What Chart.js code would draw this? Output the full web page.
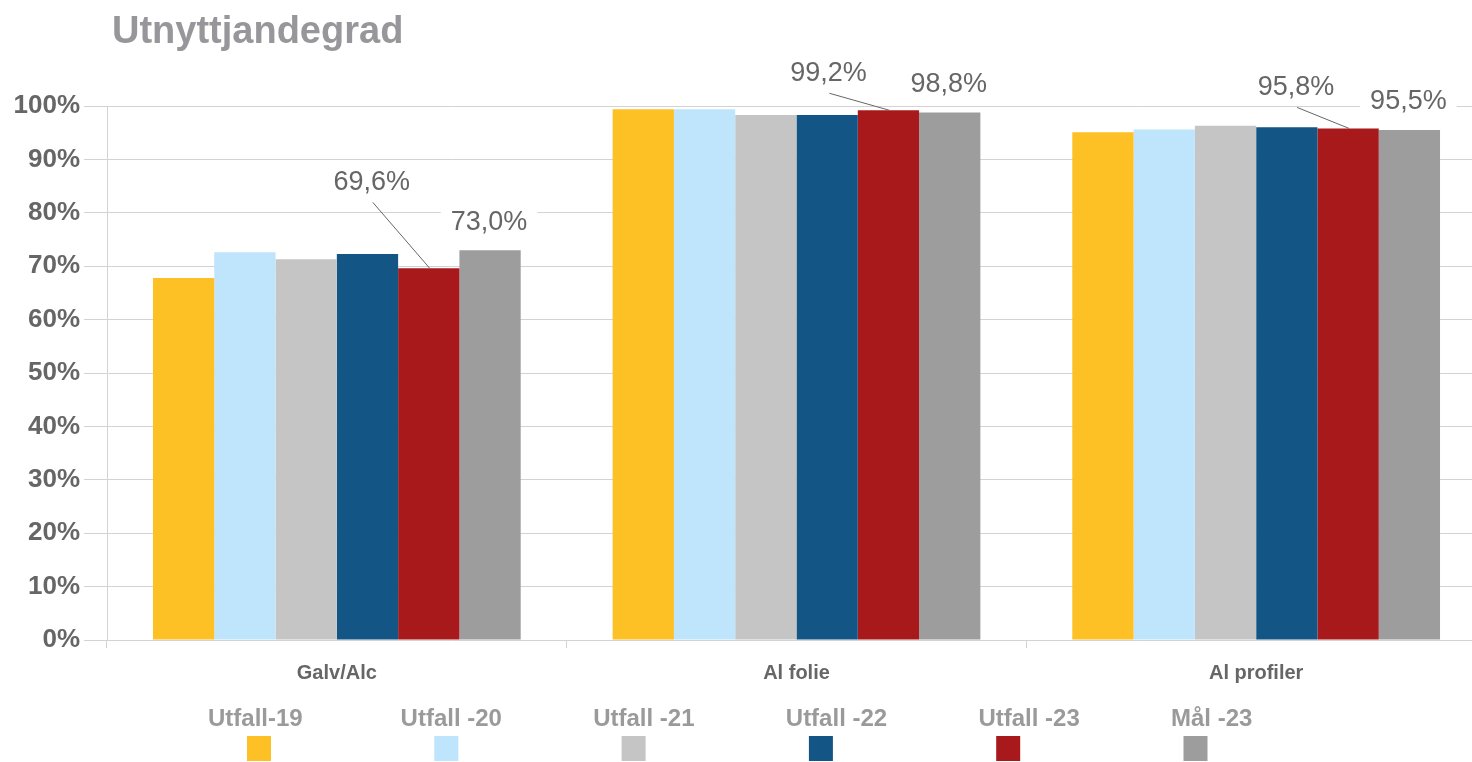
<!DOCTYPE html>
<html lang="no">
<head>
<meta charset="utf-8">
<title>Utnyttjandegrad</title>
<script src="https://cdn.jsdelivr.net/npm/chart.js@4/dist/chart.umd.min.js"></script>
<style>
    html, body { margin: 0; padding: 0; background: #fff; overflow: hidden; }
    #wrap { width: 1472px; height: 762px; overflow: hidden; }
</style>
</head>
<body>
<div id="wrap"><canvas id="myChart" width="1488" height="762"></canvas></div>
<script>
// Data
const categories = ['Galv/Alc', 'Al folie', 'Al profiler'];
const seriesNames = ['Utfall-19', 'Utfall -20', 'Utfall -21', 'Utfall -22', 'Utfall -23', 'Mål -23'];
const utfall19 = [67.8, 99.4, 95.1];
const utfall20 = [72.6, 99.4, 95.6];
const utfall21 = [71.3, 98.3, 96.3];
const utfall22 = [72.3, 98.3, 96.0];
const utfall23 = [69.6, 99.2, 95.8];
const mal23 = [73.0, 98.8, 95.5];
const yMin = 0, yMax = 100, yStep = 10;

// Styles
const colors = ['#FDC126', '#BEE5FB', '#C5C5C5', '#135585', '#A8191B', '#9D9D9D'];
const font = '"Liberation Sans", Arial, Helvetica, sans-serif';
const gridColor = '#d3d3d3';
// label offsets from bar top (px): dataset 4 gets a leader line
const redLabelOffsets = [[-57, -86], [-60, -37], [-52, -41]];
const grayLabelOffset = [-1, -28];

const fmt = (v) => v.toFixed(1).replace('.', ',') + '%';

const values = [utfall19, utfall20, utfall21, utfall22, utfall23, mal23];
const datasets = seriesNames.map((name, i) => ({
    label: name,
    data: values[i],
    backgroundColor: colors[i],
    borderWidth: 0,
    categoryPercentage: 0.8,
    barPercentage: 1.0
}));

const drawLabel = (ctx, text, x, y) => {
    let w = ctx.measureText(text).width + 20;
    ctx.fillStyle = '#fff';
    ctx.fillRect(x - w / 2, y - 16, w, 32);
    ctx.fillStyle = '#666';
    ctx.fillText(text, x, y);
};

const labelPlugin = {
    id: 'valueLabels',
    afterDatasetsDraw(chart) {
        let ctx = chart.ctx;
        ctx.save();
        ctx.font = '27px ' + font;
        ctx.textAlign = 'center';
        ctx.textBaseline = 'middle';
        let red = chart.getDatasetMeta(4);
        red.data.forEach((bar, i) => {
            let lx = bar.x + redLabelOffsets[i][0];
            let ly = bar.y + redLabelOffsets[i][1];
            ctx.strokeStyle = '#666';
            ctx.lineWidth = 1;
            ctx.beginPath();
            ctx.moveTo(lx + 1, ly + 20);
            ctx.lineTo(bar.x + 1, bar.y);
            ctx.stroke();
            drawLabel(ctx, fmt(utfall23[i]), lx, ly);
        });
        let gray = chart.getDatasetMeta(5);
        gray.data.forEach((bar, i) => {
            drawLabel(ctx, fmt(mal23[i]), bar.x + grayLabelOffset[0], bar.y + grayLabelOffset[1]);
        });
        ctx.restore();
    }
};

const decorPlugin = {
    id: 'decor',
    afterDraw(chart) {
        let ctx = chart.ctx;
        ctx.save();
        // title
        ctx.font = 'bold 38px ' + font;
        ctx.fillStyle = '#97979b';
        ctx.textAlign = 'left';
        ctx.textBaseline = 'alphabetic';
        ctx.fillText('Utnyttjandegrad', 112, 43);
        // legend: text above, square below
        ctx.font = 'bold 24px ' + font;
        ctx.textBaseline = 'middle';
        chart.data.datasets.forEach((ds, i) => {
            ctx.fillStyle = '#9a9a9a';
            ctx.textAlign = 'left';
            ctx.fillText(ds.label, 208 + 192.6 * i, 719);
            ctx.fillStyle = ds.backgroundColor;
            ctx.fillRect(247 + 187.3 * i, 736, 24, 25);
        });
        ctx.restore();
    }
};

let ctx = document.getElementById('myChart').getContext('2d');
let myChart = new Chart(ctx, {
    type: 'bar',
    data: { labels: categories, datasets: datasets },
    options: {
        responsive: false,
        animation: false,
        devicePixelRatio: 1,
        layout: { padding: { top: 106, right: 2, bottom: 0, left: 0 } },
        plugins: {
            legend: { display: false },
            tooltip: { enabled: false },
            title: { display: false }
        },
        scales: {
            x: {
                offset: true,
                grid: {
                    display: true,
                    offset: true,
                    drawOnChartArea: false,
                    drawTicks: true,
                    tickLength: 8,
                    color: gridColor
                },
                border: { display: false },
                ticks: {
                    color: '#666',
                    padding: 13,
                    font: { family: font, size: 20, weight: 'bold' }
                },
                afterFit: (scale) => { scale.height = 122; }
            },
            y: {
                min: yMin,
                max: yMax,
                grid: {
                    color: gridColor,
                    drawTicks: true,
                    tickLength: 23
                },
                border: { display: true, color: gridColor },
                ticks: {
                    stepSize: yStep,
                    color: '#666',
                    padding: 4,
                    font: { family: font, size: 26, weight: 'bold' },
                    callback: (v) => v + '%'
                },
                afterFit: (scale) => { scale.width = 107; }
            }
        }
    },
    plugins: [labelPlugin, decorPlugin]
});
</script>
</body>
</html>
